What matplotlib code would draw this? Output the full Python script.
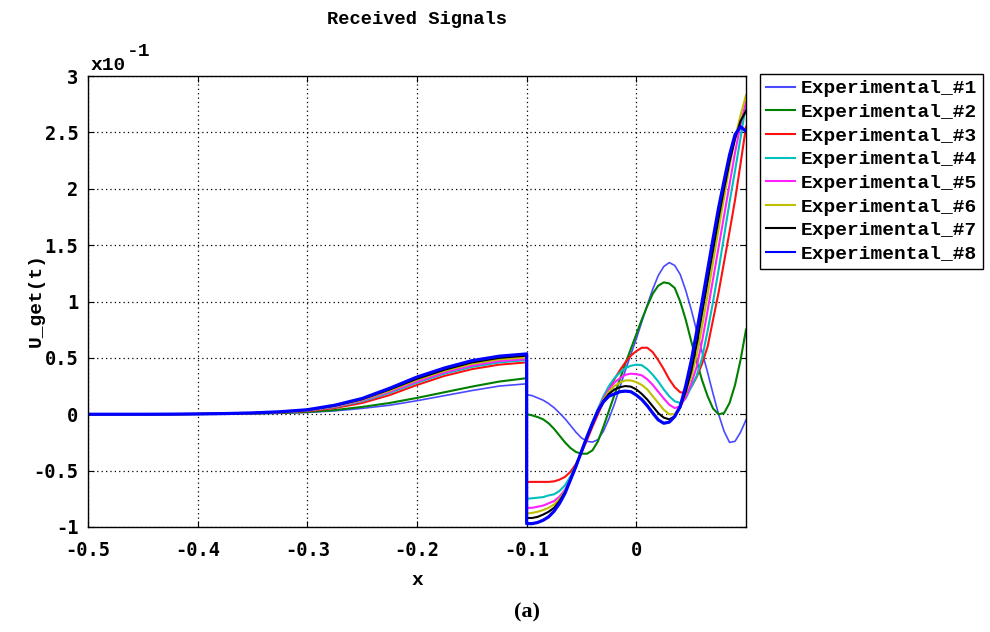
import matplotlib
matplotlib.use("Agg")
import matplotlib.pyplot as plt
import numpy as np

# ---- data (values in units of x10^-1) ----
x_left = [-0.5, -0.475, -0.45, -0.425, -0.4, -0.375, -0.35, -0.325, -0.3,
          -0.275, -0.25, -0.225, -0.2, -0.175, -0.15, -0.125, -0.1]
x_right = [-0.1, -0.095, -0.09, -0.085, -0.08, -0.075, -0.07, -0.065, -0.06, -0.055,
           -0.05, -0.045, -0.04, -0.035, -0.03, -0.025, -0.02, -0.015, -0.01, -0.005,
           0.0, 0.005, 0.01, 0.015, 0.02, 0.025, 0.03, 0.035, 0.04, 0.045,
           0.05, 0.055, 0.06, 0.065, 0.07, 0.075, 0.08, 0.085, 0.09, 0.095, 0.1]

exp1_left = [0, 0, 0, 0, 0.001, 0.002, 0.005, 0.009, 0.016, 0.03, 0.052, 0.08, 0.12, 0.165, 0.21, 0.25, 0.27]
exp2_left = [0, 0, 0, 0, 0.001, 0.003, 0.006, 0.011, 0.02, 0.037, 0.065, 0.1, 0.145, 0.195, 0.245, 0.29, 0.32]
exp3_left = [0, 0, 0, 0, 0.002, 0.004, 0.008, 0.015, 0.027, 0.055, 0.1, 0.17, 0.26, 0.34, 0.4, 0.44, 0.46]
exp4_left = [0, 0, 0, 0.001, 0.002, 0.005, 0.009, 0.018, 0.032, 0.064, 0.115, 0.19, 0.28, 0.36, 0.42, 0.46, 0.48]
exp5_left = [0, 0, 0, 0.001, 0.002, 0.005, 0.01, 0.019, 0.034, 0.068, 0.122, 0.2, 0.29, 0.37, 0.432, 0.472, 0.49]
exp6_left = [0, 0, 0, 0.001, 0.003, 0.005, 0.01, 0.02, 0.036, 0.072, 0.128, 0.21, 0.305, 0.385, 0.447, 0.487, 0.505]
exp7_left = [0, 0, 0, 0.001, 0.003, 0.006, 0.011, 0.021, 0.038, 0.076, 0.134, 0.22, 0.315, 0.395, 0.46, 0.5, 0.52]
exp8_left = [0, 0, 0, 0.001, 0.003, 0.006, 0.012, 0.022, 0.04, 0.08, 0.14, 0.23, 0.33, 0.41, 0.475, 0.515, 0.535]

exp1_right = [0.174, 0.165, 0.145, 0.125, 0.095, 0.058, 0.01, -0.04, -0.10, -0.16,
              -0.21, -0.24, -0.247, -0.225, -0.15, -0.04, 0.09, 0.24, 0.39, 0.53,
              0.67, 0.82, 0.97, 1.11, 1.23, 1.31, 1.345, 1.32, 1.24, 1.1,
              0.93, 0.74, 0.55, 0.37, 0.18, 0.0, -0.15, -0.25, -0.24, -0.16, -0.05]
exp2_right = [0.0, -0.01, -0.025, -0.045, -0.08, -0.13, -0.19, -0.25, -0.30, -0.335,
              -0.35, -0.35, -0.32, -0.24, -0.11, 0.03, 0.17, 0.31, 0.45, 0.58,
              0.71, 0.84, 0.96, 1.07, 1.14, 1.17, 1.16, 1.12, 1.0, 0.84,
              0.65, 0.47, 0.3, 0.16, 0.05, 0.0, 0.01, 0.1, 0.26, 0.48, 0.75]
exp3_right = [-0.60, -0.60, -0.60, -0.60, -0.60, -0.595, -0.58, -0.555, -0.51, -0.44,
              -0.34, -0.23, -0.11, 0.0, 0.11, 0.22, 0.31, 0.39, 0.46, 0.52,
              0.56, 0.59, 0.59, 0.55, 0.48, 0.4, 0.31, 0.24, 0.195, 0.19,
              0.24, 0.33, 0.45, 0.6, 0.84, 1.08, 1.35, 1.62, 1.9, 2.22, 2.55]
exp4_right = [-0.75, -0.745, -0.74, -0.735, -0.72, -0.71, -0.68, -0.63, -0.55, -0.45,
              -0.33, -0.20, -0.07, 0.05, 0.16, 0.25, 0.32, 0.37, 0.41, 0.43,
              0.44, 0.435, 0.40, 0.35, 0.29, 0.22, 0.16, 0.115, 0.10, 0.14,
              0.24, 0.34, 0.5, 0.74, 1.0, 1.28, 1.58, 1.88, 2.16, 2.45, 2.75]
exp5_right = [-0.83, -0.83, -0.82, -0.81, -0.79, -0.77, -0.73, -0.67, -0.575, -0.46,
              -0.33, -0.20, -0.08, 0.04, 0.14, 0.22, 0.28, 0.32, 0.35, 0.36,
              0.355, 0.345, 0.31, 0.26, 0.2, 0.14, 0.085, 0.055, 0.07, 0.15,
              0.27, 0.42, 0.65, 0.92, 1.2, 1.48, 1.76, 2.04, 2.32, 2.57, 2.77]
exp6_right = [-0.88, -0.875, -0.865, -0.85, -0.83, -0.80, -0.75, -0.68, -0.58, -0.46,
              -0.33, -0.20, -0.08, 0.03, 0.13, 0.2, 0.25, 0.28, 0.30, 0.30,
              0.285, 0.26, 0.22, 0.16, 0.1, 0.04, 0.0, 0.0, 0.07, 0.19,
              0.33, 0.52, 0.78, 1.06, 1.35, 1.64, 1.92, 2.2, 2.45, 2.65, 2.83]
exp7_right = [-0.92, -0.92, -0.91, -0.89, -0.865, -0.83, -0.77, -0.69, -0.58, -0.46,
              -0.33, -0.20, -0.08, 0.03, 0.12, 0.18, 0.22, 0.24, 0.25, 0.245,
              0.22, 0.18, 0.13, 0.07, 0.01, -0.03, -0.045, -0.02, 0.06, 0.2,
              0.38, 0.62, 0.9, 1.18, 1.46, 1.74, 2.0, 2.24, 2.44, 2.6, 2.69]
exp8_right = [-0.97, -0.97, -0.96, -0.94, -0.91, -0.86, -0.79, -0.70, -0.58, -0.46,
              -0.33, -0.20, -0.08, 0.03, 0.11, 0.16, 0.18, 0.2, 0.205, 0.2,
              0.17, 0.13, 0.075, 0.01, -0.05, -0.08, -0.07, -0.02, 0.07, 0.25,
              0.47, 0.73, 1.0, 1.28, 1.56, 1.83, 2.07, 2.3, 2.48, 2.55, 2.51]

labels = ["Experimental_#%d" % i for i in range(1, 9)]
x_ticks = [-0.5, -0.4, -0.3, -0.2, -0.1, 0.0]
x_tick_labels = ["-0.5", "-0.4", "-0.3", "-0.2", "-0.1", "0"]
y_ticks = [3, 2.5, 2, 1.5, 1, 0.5, 0, -0.5, -1]
y_tick_labels = ["3", "2.5", "2", "1.5", "1", "0.5", "0", "-0.5", "-1"]

lefts = [exp1_left, exp2_left, exp3_left, exp4_left, exp5_left, exp6_left, exp7_left, exp8_left]
rights = [exp1_right, exp2_right, exp3_right, exp4_right, exp5_right, exp6_right, exp7_right, exp8_right]

colors = ["#4a4aff", "#007f00", "#ff1010", "#00bfbf", "#ff20ff", "#bfbf00", "#000000", "#0000ff"]
widths = [1.2, 1.5, 1.5, 1.5, 1.5, 1.5, 1.5, 2.3]

mono = "Liberation Mono"

fig = plt.figure(figsize=(9.9, 6.32), dpi=100)
ax_l, ax_b = 88 / 990, 1 - 527 / 632
ax_w, ax_h = (746 - 88) / 990, (527 - 76) / 632
ax = fig.add_axes([ax_l, ax_b, ax_w, ax_h])

for i in range(8):
    xs = list(x_left) + list(x_right)
    ys = list(lefts[i]) + list(rights[i])
    ax.plot(xs, ys, color=colors[i], lw=widths[i], label=labels[i], solid_joinstyle="round")

ax.set_xlim(-0.5, 0.1)
ax.set_ylim(-1, 3)
ax.set_xticks(x_ticks)
ax.set_xticklabels(x_tick_labels)
ax.set_yticks(y_ticks)
ax.set_yticklabels(y_tick_labels)
ax.grid(True, color="black", linestyle=(0, (1, 2.5)), linewidth=0.9)
ax.tick_params(direction="in", length=4, width=0.8, top=True, right=True)
ax.tick_params(axis="x", pad=10)
ax.tick_params(axis="y", pad=7)
for lab in ax.get_xticklabels() + ax.get_yticklabels():
    lab.set_fontfamily("DejaVu Sans Mono")
    lab.set_fontweight("bold")
    lab.set_fontsize(13.5)
for s in ax.spines.values():
    s.set_linewidth(1.0)
    s.set_color("black")

ax.set_xlabel("x", fontfamily=mono, fontweight="bold", fontsize=14)
ax.xaxis.set_label_coords((417 - 88) / 658, -(572 - 527) / 451)
ax.set_ylabel("U_get(t)", fontfamily=mono, fontweight="bold", fontsize=14)
ax.yaxis.set_label_coords(-(88 - 45) / 658, (527 - 300) / 451)

fig.text(417 / 990, 1 - 20 / 632, "Received Signals", ha="center", va="center",
         fontfamily=mono, fontweight="bold", fontsize=13.5)
fig.text(91 / 990, 1 - 65 / 632, "x10", ha="left", va="center",
         fontfamily=mono, fontweight="bold", fontsize=14)
fig.text(127 / 990, 1 - 52 / 632, "-1", ha="left", va="center",
         fontfamily=mono, fontweight="bold", fontsize=14)
fig.text(527 / 990, 1 - 612 / 632, "(a)", ha="center", va="center",
         fontfamily="Liberation Serif", fontweight="bold", fontsize=16)

leg = fig.legend(loc="upper left", bbox_to_anchor=(760 / 990, 1 - 74 / 632),
                 bbox_transform=fig.transFigure, borderaxespad=0,
                 prop={"family": mono, "weight": "bold", "size": 14},
                 handlelength=1.5, handletextpad=0.3, labelspacing=0.31,
                 borderpad=0.3, fancybox=False, framealpha=1, edgecolor="black")
leg.get_frame().set_linewidth(1.0)
for h in leg.get_lines():
    h.set_linewidth(1.5)

fig.savefig("out.png", dpi=100)
